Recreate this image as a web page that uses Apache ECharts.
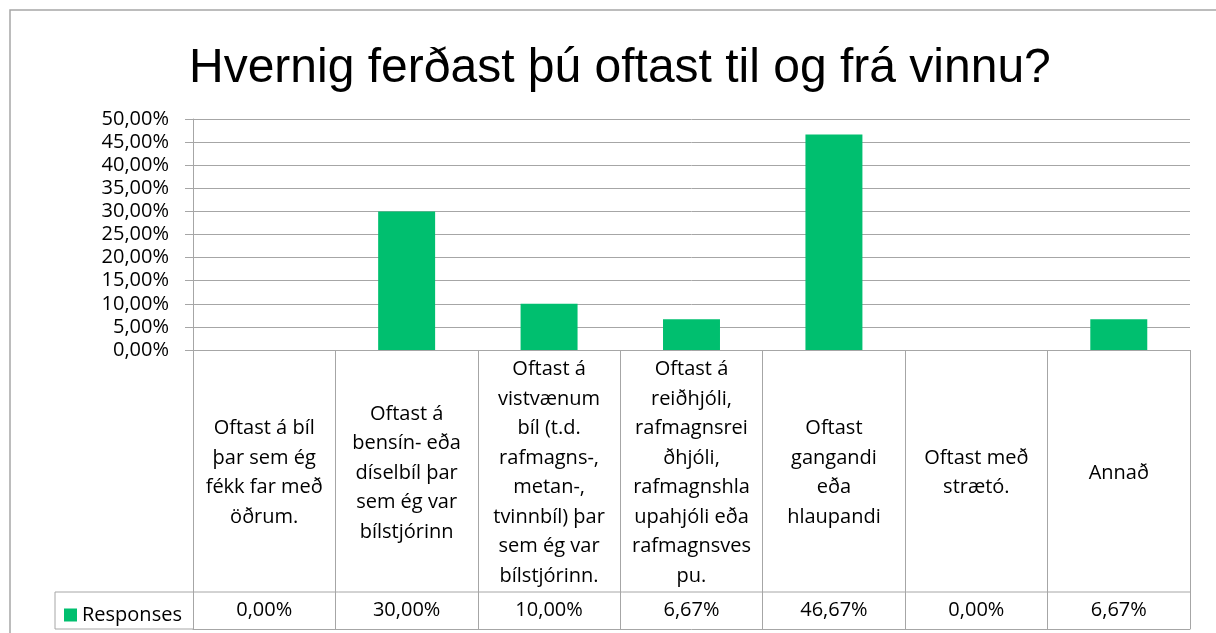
<!DOCTYPE html>
<html>
<head>
<meta charset="utf-8">
<script src="https://cdn.jsdelivr.net/npm/echarts@6/dist/echarts.min.js"></script>
<style>
  html, body { margin: 0; padding: 0; background: #fff; }
  #chart { width: 1216px; height: 633px; }
</style>
</head>
<body>
<div id="chart"></div>
<script>
// categories, wrapped like the Excel data table does it
const categories = [
    'Oftast á bíl\nþar sem ég\nfékk far með\nöðrum.',
    'Oftast á\nbensín- eða\ndíselbíl þar\nsem ég var\nbílstjórinn',
    'Oftast á\nvistvænum\nbíl (t.d.\nrafmagns-,\nmetan-,\ntvinnbíl) þar\nsem ég var\nbílstjórinn.',
    'Oftast á\nreiðhjóli,\nrafmagnsrei\nðhjóli,\nrafmagnshla\nupahjóli eða\nrafmagnsves\npu.',
    'Oftast\ngangandi\neða\nhlaupandi',
    'Oftast með\nstrætó.',
    'Annað'
];
const responses = [0, 30, 10, 6.67, 46.67, 0, 6.67];
const yTicks = [0, 5, 10, 15, 20, 25, 30, 35, 40, 45, 50];

const seriesName = 'Responses';
const titleText = 'Hvernig ferðast þú oftast til og frá vinnu?';

const fmt = v => v.toFixed(2).replace('.', ',') + '%';

const green = '#00bf6f';
const lineGray = '#a6a6a6';
const font = '"Open Sans", "Noto Sans", sans-serif';

// layout
const plotLeft = 193, plotRight = 26, plotTop = 119, axisY = 350;
const tableBottom = 629, rowSep = 592, tableLeft = 55;
const W = 1216, H = 633;

let chart = echarts.init(document.getElementById('chart'), null, {renderer: 'canvas'});
chart.setOption({
    backgroundColor: '#fff',
    animation: false,
    title: {
        text: titleText,
        left: 184,
        top: 40,
        textStyle: {
            fontFamily: '"Liberation Sans", Arial, sans-serif',
            fontSize: 48,
            fontWeight: 'normal',
            color: '#000'
        }
    },
    legend: {
        data: [seriesName],
        left: tableLeft + 4,
        top: rowSep + 8,
        icon: 'rect',
        itemWidth: 13,
        itemHeight: 13,
        textStyle: {fontFamily: font, fontSize: 20, color: '#000', lineHeight: 20}
    },
    grid: [
        {left: plotLeft, right: plotRight, top: plotTop, bottom: H - axisY},
        {left: plotLeft, right: plotRight, top: axisY, bottom: H - tableBottom}
    ],
    xAxis: [
        {
            type: 'category',
            gridIndex: 0,
            data: categories,
            axisLine: {show: true, lineStyle: {color: lineGray}},
            axisTick: {show: false},
            axisLabel: {
                interval: 0,
                margin: 123,
                verticalAlign: 'middle',
                fontFamily: font,
                fontSize: 20,
                lineHeight: 29.5,
                color: '#000'
            }
        },
        {
            type: 'category',
            gridIndex: 1,
            data: responses,
            axisLine: {show: true, lineStyle: {color: lineGray}},
            axisTick: {show: false},
            splitLine: {show: true, lineStyle: {color: lineGray}},
            axisLabel: {
                interval: 0,
                inside: true,
                margin: 19,
                verticalAlign: 'middle',
                formatter: v => fmt(Number(v)),
                fontFamily: font,
                fontSize: 20,
                color: '#000'
            }
        }
    ],
    yAxis: [
        {
            type: 'value',
            gridIndex: 0,
            min: yTicks[0],
            max: yTicks[yTicks.length - 1],
            interval: yTicks[1] - yTicks[0],
            axisLine: {show: true, lineStyle: {color: lineGray}},
            axisTick: {show: true, length: 8, lineStyle: {color: lineGray}},
            splitLine: {lineStyle: {color: lineGray}},
            axisLabel: {
                margin: 24,
                formatter: v => fmt(v),
                fontFamily: font,
                fontSize: 20,
                color: '#000'
            }
        },
        {
            type: 'value',
            gridIndex: 1,
            axisLine: {show: true, lineStyle: {color: lineGray}},
            axisTick: {show: false},
            axisLabel: {show: false},
            splitLine: {show: false}
        }
    ],
    series: [{
        name: seriesName,
        type: 'bar',
        xAxisIndex: 0,
        yAxisIndex: 0,
        data: responses,
        barWidth: '40%',
        itemStyle: {color: green}
    }],
    graphic: [
        {
            type: 'rect',
            shape: {x: 10, y: 10, width: W + 20, height: H + 20},
            style: {fill: null, stroke: lineGray, lineWidth: 1.5},
            silent: true
        },
        {
            type: 'polyline',
            shape: {points: [[W - plotRight, rowSep], [tableLeft, rowSep], [tableLeft, tableBottom], [plotLeft, tableBottom]]},
            style: {fill: null, stroke: lineGray, lineWidth: 1},
            silent: true
        }
    ]
});
</script>
</body>
</html>
